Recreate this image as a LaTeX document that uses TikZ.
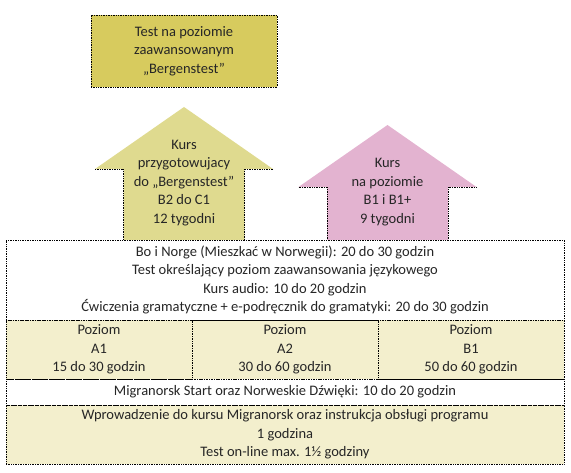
\documentclass[tikz,border=0pt]{standalone}
\usepackage{fontspec}
\setmainfont{Carlito}
\usetikzlibrary{positioning}
\definecolor{testfill}{RGB}{215,203,94}
\definecolor{kursfill}{RGB}{223,218,143}
\definecolor{pinkfill}{RGB}{227,179,208}
\definecolor{rowfill}{RGB}{243,239,205}

\begin{document}
\begin{tikzpicture}[x=1pt,y=1pt,
   every node/.style={font=\fontsize{14.5}{18.5}\selectfont, align=center, text=black!85, outer sep=0pt},
   edge/.style={densely dotted, line width=0.7pt},
   rowbox/.style={edge, draw, minimum width=558pt, inner sep=1pt},
   levelbox/.style={edge, draw, fill=rowfill, minimum width=186pt, minimum height=59pt, inner sep=1pt}]
   \useasboundingbox (0,0) rectangle (571,472);
   % top box
   \node[edge, draw, fill=testfill, minimum width=186pt, minimum height=72pt] (test) at (184,421) {Test na poziomie\\zaawansowanym\\„Bergenstest”};
   % arrows
   \fill[kursfill] (95,303) -- (184,365) -- (273,303) -- (244.5,303) -- (244.5,232) -- (123.5,232) -- (123.5,303) -- cycle;
   \draw[edge] (95,303) -- (123.5,303) -- (123.5,232) (273,303) -- (244.5,303) -- (244.5,232);
   \fill[pinkfill] (298.5,285) -- (387.5,347) -- (476.5,285) -- (448,285) -- (448,232) -- (327,232) -- (327,285) -- cycle;
   \draw[edge] (298.5,285) -- (327,285) -- (327,232) (476.5,285) -- (448,285) -- (448,232);
   \node (kursB) at (184,289) {Kurs\\przygotowujacy\\do „Bergenstest”\\B2 do C1\\12 tygodni};
   \node (kursA) at (387.5,280) {Kurs\\na poziomie\\B1 i B1+\\9 tygodni};
   % rows
   \node[rowbox, fill=rowfill, minimum height=59pt] (intro) at (285,37.5) {Wprowadzenie do kursu Migranorsk oraz instrukcja obsługi programu\\1 godzina\\Test on-line max. 1½ godziny};
   \node[rowbox, fill=white, minimum height=26pt, above=0pt of intro] (start) {Migranorsk Start oraz Norweskie Dźwięki: 10 do 20 godzin};
   \node[levelbox, anchor=south west] (a1) at (start.north west) {Poziom\\A1\\15 do 30 godzin};
   \node[levelbox, right=0pt of a1] (a2) {Poziom\\A2\\30 do 60 godzin};
   \node[levelbox, right=0pt of a2] (b1) {Poziom\\B1\\50 do 60 godzin};
   \node[rowbox, fill=white, minimum height=80pt, above=0pt of a2] (base) {Bo i Norge (Mieszkać w Norwegii): 20 do 30 godzin\\Test określający poziom zaawansowania językowego\\Kurs audio: 10 do 20 godzin\\Ćwiczenia gramatyczne + e-podręcznik do gramatyki: 20 do 30 godzin};
\end{tikzpicture}
\end{document}
